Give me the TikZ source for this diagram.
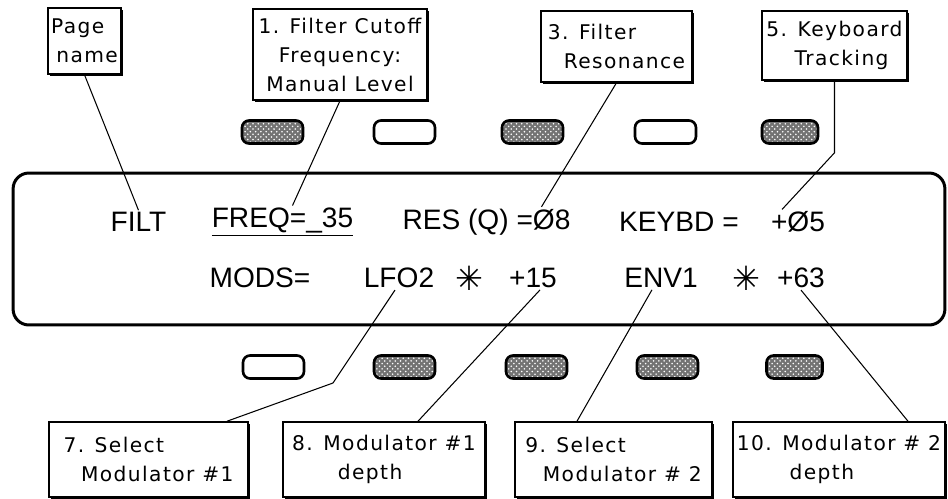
\documentclass[tikz,border=0pt]{standalone}
\usepackage{fontspec}
\newfontfamily\lcdfont{Liberation Sans}
\newfontfamily\tagfont[LetterSpace=7]{DejaVu Sans}
\newfontfamily\symfont{DejaVu Sans}
\usepackage{tikz}
\usetikzlibrary{calc,patterns,shadows}
\tikzset{
tagbox/.style={draw,line width=0.9pt,fill=white,inner sep=1pt,
  font=\tagfont\fontsize{11.5}{16.5}\selectfont,
  drop shadow={shadow xshift=1.3pt,shadow yshift=-1.3pt,opacity=1,fill=black}},
lcd/.style={font=\lcdfont\fontsize{16}{18}\selectfont,inner sep=1pt},
star/.style={lcd,font=\symfont\fontsize{19}{20}\selectfont},
keyoff/.style={draw,line width=1.5pt,rounded corners=4pt,minimum width=1.22cm,minimum height=0.46cm,fill=white},
keyon/.style={keyoff,preaction={fill=black!55},pattern=crosshatch dots,pattern color=white},
lead/.style={line width=0.6pt}
}
\begin{document}
\begin{tikzpicture}[x=0.02cm,y=-0.02cm]
\useasboundingbox (0,0) rectangle (948,498);
\node[draw,line width=1.7pt,rounded corners=9pt,minimum width=18.64cm,minimum height=3.04cm] (panel) at (479,249) {};
\node[keyon] (k1) at (272.5,132) {};
\node[keyoff] (k2) at (404.5,132) {};
\node[keyon] (k3) at (532.5,132) {};
\node[keyoff] (k4) at (665.5,132) {};
\node[keyon,minimum width=1.12cm] (k5) at (790,132) {};
\node[keyoff] (k6) at (273.5,367) {};
\node[keyon] (k7) at (404.5,367) {};
\node[keyon] (k8) at (536.5,367) {};
\node[keyon] (k9) at (667.5,367) {};
\node[keyon,minimum width=1.12cm] (k10) at (794.5,367) {};
\node[lcd] (filt) at (138.5,222) {FILT};
\node[lcd] (freq) at (282.5,222) {\underline{FREQ=\_35}};
\node[lcd] (res) at (486.5,222) {RES (Q) =Ø8};
\node[lcd] (keybd) at (679,222) {KEYBD =};
\node[lcd] (keyval) at (798,222) {+Ø5};
\node[lcd] (mods) at (260,278) {MODS=};
\node[lcd] (lfo) at (399,278) {LFO2};
\node[star] (starA) at (469,278) {✳};
\node[lcd] (amtA) at (533,278) {+15};
\node[lcd] (env) at (661,278) {ENV1};
\node[star] (starB) at (746,278) {✳};
\node[lcd] (amtB) at (801,278) {+63};
\node[tagbox,minimum width=1.46cm,minimum height=1.32cm,align=left] (pagename) at (84.5,41) {Page\\\hspace*{3pt}name};
\node[tagbox,minimum width=3.48cm,minimum height=1.82cm,align=center] (cutoff) at (340,54.5) {1. Filter Cutoff\\Frequency:\\Manual Level};
\node[tagbox,minimum width=3.02cm,minimum height=1.42cm,align=left] (reso) at (616.5,46.5) {3. Filter\\\hspace*{9pt}Resonance};
\node[tagbox,minimum width=2.9cm,minimum height=1.38cm,align=center] (keytrk) at (834.5,45.5) {5. Keyboard\\\hspace*{8pt}Tracking};
\node[tagbox,minimum width=3.98cm,minimum height=1.5cm,align=left] (selA) at (148.5,459.5) {7. Select\\\hspace*{10pt}Modulator \#1};
\node[tagbox,minimum width=4.04cm,minimum height=1.5cm,align=left] (depthA) at (384,459.5) {8. Modulator \#1\\\hspace*{26pt}depth};
\node[tagbox,minimum width=3.94cm,minimum height=1.5cm,align=left] (selB) at (613.5,459.5) {9. Select\\\hspace*{10pt}Modulator \# 2};
\node[tagbox,minimum width=4.24cm,minimum height=1.5cm,align=left] (depthB) at (839,459.5) {10. Modulator \# 2\\\hspace*{30pt}depth};
\coordinate (bendA) at (333,383);
\draw[lead] (pagename.south) -- (filt.north);
\draw[lead] (cutoff.south) -- ($(freq.north)+(10,0)$);
\draw[lead] (reso.south) -- ($(res.north)+(55,0)$);
\draw[lead] (keytrk.south) -- ++(0,72) -- ($(keyval.north)+(-16,0)$);
\draw[lead] ($(lfo.south)+(-4,0)$) -- (bendA) -- ($(selA.north)+(78.5,0)$);
\draw[lead] ($(amtA.south)+(7,0)$) -- ($(depthA.north)+(34,0)$);
\draw[lead] ($(env.south)+(-9,0)$) -- ($(selB.north)+(-36.5,0)$);
\draw[lead] (amtB.south) -- ($(depthB.north)+(69,0)$);
\end{tikzpicture}
\end{document}
